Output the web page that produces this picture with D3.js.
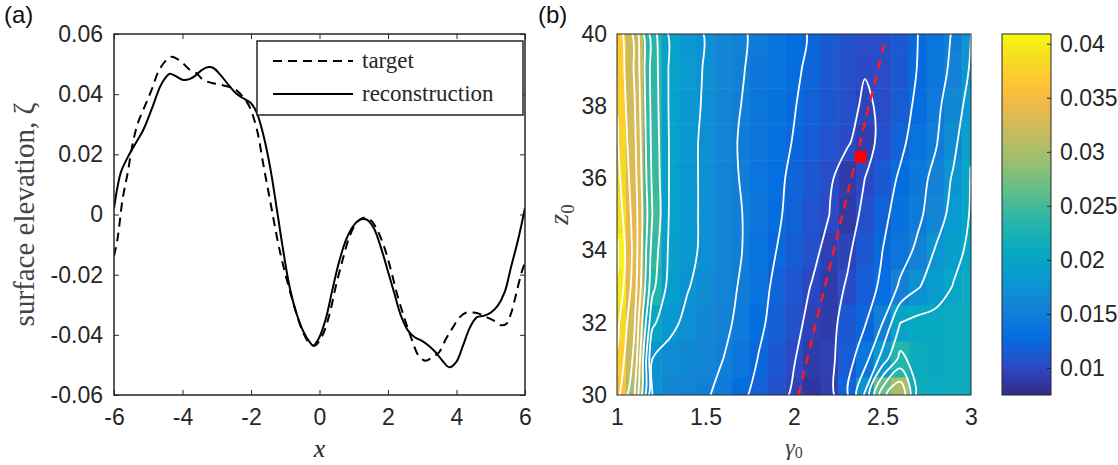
<!DOCTYPE html>
<html>
<head>
<meta charset="utf-8">
<script src="https://cdn.jsdelivr.net/npm/d3@7"></script>
<style>
  body { margin: 0; background: #fff; }
</style>
</head>
<body>
<div id="svg_chart"></div>
<script>
///////////// Data //////////////
// panel (a): surface elevation along x
var recon_x = [-6.0,-5.8,-5.6,-5.35,-5.15,-4.9,-4.65,-4.5,-4.37,-4.2,-4.0,-3.8,-3.64,-3.44,-3.24,-3.1,-2.9,-2.7,-2.45,-2.25,-2.0,-1.83,-1.63,-1.43,-1.23,-1.08,-0.88,-0.68,-0.48,-0.28,-0.18,-0.03,0.18,0.38,0.58,0.78,0.98,1.18,1.38,1.58,1.78,1.98,2.18,2.38,2.59,2.79,2.99,3.19,3.39,3.59,3.79,3.99,4.19,4.39,4.59,4.79,5.0,5.2,5.4,5.6,5.8,6.0];
var recon_y = [0.002,0.014,0.019,0.024,0.028,0.035,0.0426,0.0454,0.0468,0.046,0.0448,0.045,0.046,0.048,0.049,0.0487,0.0465,0.0437,0.0404,0.0388,0.037,0.0338,0.026,0.015,0.0006,-0.0105,-0.0237,-0.0326,-0.0387,-0.0425,-0.0436,-0.0414,-0.0348,-0.0248,-0.0154,-0.0083,-0.0039,-0.0017,-0.0017,-0.0044,-0.0105,-0.0182,-0.026,-0.0337,-0.0387,-0.0409,-0.042,-0.0436,-0.0458,-0.0486,-0.0508,-0.0491,-0.0436,-0.0376,-0.0342,-0.0337,-0.0326,-0.0304,-0.026,-0.0171,-0.0083,0.0022];
var target_x = [-6.0,-5.9,-5.75,-5.6,-5.45,-5.3,-5.1,-4.9,-4.7,-4.5,-4.34,-4.2,-4.0,-3.8,-3.6,-3.4,-3.14,-2.9,-2.7,-2.45,-2.25,-2.05,-1.83,-1.63,-1.43,-1.23,-1.08,-0.88,-0.68,-0.48,-0.28,-0.13,0.08,0.28,0.48,0.68,0.88,1.08,1.28,1.48,1.68,1.88,2.08,2.28,2.49,2.69,2.89,3.09,3.29,3.49,3.69,3.89,4.09,4.29,4.49,4.69,4.89,5.09,5.3,5.45,5.6,5.75,5.9,6.0];
var target_y = [-0.0138,-0.0083,0.005,0.0139,0.0238,0.0305,0.036,0.0415,0.0476,0.051,0.0524,0.052,0.0504,0.0482,0.047,0.0448,0.0437,0.0432,0.0426,0.0415,0.0393,0.036,0.0283,0.016,0.0039,-0.0083,-0.016,-0.0248,-0.0326,-0.0392,-0.043,-0.0436,-0.0403,-0.0337,-0.0237,-0.0149,-0.0072,-0.0028,-0.0011,-0.0017,-0.005,-0.0105,-0.0182,-0.0271,-0.0348,-0.0414,-0.0469,-0.0486,-0.0475,-0.0458,-0.0414,-0.0376,-0.0342,-0.0326,-0.0326,-0.0331,-0.0342,-0.0353,-0.0368,-0.0364,-0.0326,-0.026,-0.0193,-0.016];
var x_ticks = [-6, -4, -2, 0, 2, 4, 6];
var zeta_ticks = [-0.06, -0.04, -0.02, 0, 0.02, 0.04, 0.06];
var legend_labels = ['target', 'reconstruction'];

// panel (b): misfit over (gamma0, z0), one row per z0 value
var gamma0 = [1.0,1.1,1.2,1.3,1.4,1.5,1.6,1.7,1.8,1.9,2.0,2.1,2.2,2.3,2.4,2.5,2.6,2.7,2.8,2.9,3.0];
var z0 = [30,31,32,33,34,35,36,37,38,39,40];
var misfit = [
  [0.0360,0.0300,0.0175,0.0162,0.0158,0.0152,0.0145,0.0130,0.0118,0.0107,0.0097,0.0085,0.0092,0.0122,0.0178,0.0268,0.0300,0.0215,0.0210,0.0210,0.0212], // 30
  [0.0372,0.0318,0.0175,0.0168,0.0163,0.0157,0.0150,0.0140,0.0124,0.0112,0.0101,0.0090,0.0093,0.0115,0.0140,0.0185,0.0232,0.0212,0.0209,0.0210,0.0212], // 31
  [0.0382,0.0326,0.0205,0.0180,0.0170,0.0163,0.0155,0.0145,0.0130,0.0117,0.0106,0.0094,0.0090,0.0112,0.0123,0.0150,0.0200,0.0207,0.0208,0.0210,0.0212], // 32
  [0.0398,0.0336,0.0232,0.0190,0.0176,0.0168,0.0158,0.0148,0.0134,0.0120,0.0110,0.0099,0.0090,0.0102,0.0116,0.0129,0.0154,0.0173,0.0188,0.0201,0.0210], // 33
  [0.0404,0.0340,0.0240,0.0194,0.0181,0.0170,0.0160,0.0151,0.0137,0.0125,0.0116,0.0106,0.0093,0.0096,0.0112,0.0125,0.0139,0.0155,0.0177,0.0193,0.0205], // 34
  [0.0392,0.0338,0.0250,0.0196,0.0182,0.0170,0.0160,0.0151,0.0139,0.0128,0.0119,0.0108,0.0100,0.0088,0.0106,0.0120,0.0133,0.0145,0.0162,0.0184,0.0202], // 35
  [0.0384,0.0334,0.0245,0.0197,0.0182,0.0170,0.0158,0.0149,0.0138,0.0129,0.0121,0.0112,0.0103,0.0090,0.0100,0.0114,0.0128,0.0142,0.0156,0.0178,0.0201], // 36
  [0.0378,0.0330,0.0242,0.0197,0.0182,0.0170,0.0158,0.0148,0.0139,0.0131,0.0124,0.0115,0.0108,0.0102,0.0092,0.0106,0.0120,0.0135,0.0148,0.0168,0.0198], // 37
  [0.0374,0.0326,0.0240,0.0196,0.0183,0.0172,0.0160,0.0150,0.0141,0.0133,0.0126,0.0118,0.0111,0.0106,0.0097,0.0103,0.0115,0.0130,0.0144,0.0163,0.0185], // 38
  [0.0370,0.0322,0.0238,0.0196,0.0184,0.0173,0.0161,0.0152,0.0143,0.0135,0.0128,0.0121,0.0112,0.0105,0.0101,0.0103,0.0112,0.0126,0.0140,0.0155,0.0178], // 39
  [0.0366,0.0318,0.0235,0.0195,0.0183,0.0174,0.0162,0.0153,0.0145,0.0137,0.0130,0.0123,0.0114,0.0107,0.0103,0.0105,0.0113,0.0125,0.0138,0.0152,0.0175]  // 40
];
var contour_levels = [0.01,0.0125,0.015,0.0175,0.02,0.0225,0.025,0.0275,0.03,0.0325,0.035,0.0375,0.04];
var valley_gamma = [2.025, 2.51];
var valley_z = [30, 39.74];
var best_gamma = 2.376;
var best_z = 36.6;
var gamma_ticks = [1, 1.5, 2, 2.5, 3];
var z_ticks = [30, 32, 34, 36, 38, 40];
var cbar_ticks = [0.01, 0.015, 0.02, 0.025, 0.03, 0.035, 0.04];
var cbar_range = [0.0075, 0.0409];

// parula colormap (index out of 63 -> colour)
var parula_idx = [0,5,10,15,20,25,30,35,40,45,50,53,56,59,61,63];
var parula_hex = ['#352a87','#2b4ac7','#046de0','#1481d6','#0998d1','#07a9c2','#25b5aa','#59bd8c','#92bf73','#c0bc60','#e9b94e','#fdbe3d','#fcce2e','#f5de21','#f5eb18','#f9fb0e'];

///////////// Layout //////////////
const svg_width = 1118, svg_height = 465;
const tick_font = 23;
const ink = '#262626';
const a_box = {left: 114, right: 525, top: 34, bottom: 395};
const b_box = {left: 617, right: 971, top: 34, bottom: 395};
const c_box = {left: 1002, right: 1051, top: 34, bottom: 395};

var svg = d3.select('#svg_chart').append('svg')
  .attr('width', svg_width)
  .attr('height', svg_height)
  .style('font-family', '"Liberation Sans", Arial, sans-serif');
var defs = svg.append('defs');

var fmt = d => String(d).replace('\u2212', '-');

function style_axis(g) {
  g.select('.domain').remove();
  g.selectAll('line').attr('stroke', ink).attr('stroke-width', 1);
  g.selectAll('text').attr('fill', ink).style('font-size', tick_font + 'px')
    .style('font-family', '"Liberation Sans", Arial, sans-serif');
}

///////////// Panel (a) //////////////
var ax = d3.scaleLinear().domain([-6, 6]).range([a_box.left, a_box.right]);
var ay = d3.scaleLinear().domain([-0.06, 0.06]).range([a_box.bottom, a_box.top]);

svg.append('g')
  .attr('transform', `translate(0,${a_box.bottom})`)
  .call(d3.axisBottom(ax).tickValues(x_ticks).tickFormat(fmt).tickSizeInner(-5).tickSizeOuter(0).tickPadding(14))
  .call(style_axis);
svg.append('g')
  .attr('transform', `translate(0,${a_box.top})`)
  .call(d3.axisTop(ax).tickValues(x_ticks).tickFormat('').tickSizeInner(-5).tickSizeOuter(0))
  .call(style_axis);
svg.append('g')
  .attr('transform', `translate(${a_box.left},0)`)
  .call(d3.axisLeft(ay).tickValues(zeta_ticks).tickFormat(fmt).tickSizeInner(-5).tickSizeOuter(0).tickPadding(11))
  .call(style_axis);
svg.append('g')
  .attr('transform', `translate(${a_box.right},0)`)
  .call(d3.axisRight(ay).tickValues(zeta_ticks).tickFormat('').tickSizeInner(-5).tickSizeOuter(0))
  .call(style_axis);

defs.append('clipPath').attr('id', 'clip_a')
  .append('rect')
  .attr('x', a_box.left).attr('y', a_box.top)
  .attr('width', a_box.right - a_box.left).attr('height', a_box.bottom - a_box.top);

var line = d3.line()
  .x(d => ax(d[0]))
  .y(d => ay(d[1]))
  .curve(d3.curveCatmullRom.alpha(0.5));

svg.append('path')
  .attr('clip-path', 'url(#clip_a)')
  .attr('d', line(d3.zip(target_x, target_y)))
  .attr('fill', 'none').attr('stroke', '#000').attr('stroke-width', 2)
  .attr('stroke-dasharray', '9,6');
svg.append('path')
  .attr('clip-path', 'url(#clip_a)')
  .attr('d', line(d3.zip(recon_x, recon_y)))
  .attr('fill', 'none').attr('stroke', '#000').attr('stroke-width', 2);

// axes box
svg.append('rect')
  .attr('x', a_box.left).attr('y', a_box.top)
  .attr('width', a_box.right - a_box.left).attr('height', a_box.bottom - a_box.top)
  .attr('fill', 'none').attr('stroke', ink).attr('stroke-width', 1.5);

// legend
var legend = svg.append('g');
legend.append('rect')
  .attr('x', 257).attr('y', 41).attr('width', 266).attr('height', 74)
  .attr('fill', '#fff').attr('stroke', ink).attr('stroke-width', 1.5);
legend_labels.forEach(function(lab, i) {
  var yy = 61 + i * 33;
  legend.append('line')
    .attr('x1', 273).attr('x2', 353).attr('y1', yy).attr('y2', yy)
    .attr('stroke', '#000').attr('stroke-width', 2)
    .attr('stroke-dasharray', i == 0 ? '9,6' : null);
  legend.append('text')
    .attr('x', 362).attr('y', yy + 7)
    .style('font-family', '"Liberation Serif", "Times New Roman", serif')
    .style('font-size', '23px')
    .attr('fill', ink)
    .text(lab);
});

// labels
svg.append('text')
  .attr('transform', `translate(34,${(a_box.top + a_box.bottom) / 2}) rotate(-90)`)
  .attr('text-anchor', 'middle')
  .style('font-family', '"Liberation Serif", "Times New Roman", serif')
  .style('font-size', '29px')
  .attr('fill', '#444')
  .text('surface elevation, \u03b6');
svg.append('text')
  .attr('x', ax(0)).attr('y', 457)
  .attr('text-anchor', 'middle')
  .style('font-family', '"Liberation Serif", "Times New Roman", serif')
  .style('font-style', 'italic')
  .style('font-size', '26px')
  .attr('fill', ink)
  .text('x');
svg.append('text')
  .attr('x', 4).attr('y', 23)
  .style('font-size', '24px').attr('fill', '#111')
  .text('(a)');

///////////// Panel (b) //////////////
var bx = d3.scaleLinear().domain([1, 3]).range([b_box.left, b_box.right]);
var by = d3.scaleLinear().domain([30, 40]).range([b_box.bottom, b_box.top]);
var color = d3.scaleLinear()
  .domain(parula_idx.map(i => cbar_range[0] + i / 63 * (cbar_range[1] - cbar_range[0])))
  .range(parula_hex)
  .clamp(true);

defs.append('clipPath').attr('id', 'clip_b')
  .append('rect')
  .attr('x', b_box.left).attr('y', b_box.top)
  .attr('width', b_box.right - b_box.left).attr('height', b_box.bottom - b_box.top);

var heat = svg.append('g').attr('clip-path', 'url(#clip_b)');
var dg = gamma0[1] - gamma0[0], dz = z0[1] - z0[0];
var cells = [];
misfit.forEach(function(row, j) {
  row.forEach(function(v, i) { cells.push({g: gamma0[i], z: z0[j], v: v}); });
});
heat.selectAll('rect.cell').data(cells).enter().append('rect')
  .attr('class', 'cell')
  .attr('x', d => bx(d.g - dg / 2))
  .attr('y', d => by(d.z + dz / 2))
  .attr('width', bx(dg) - bx(0) + 0.5)
  .attr('height', by(0) - by(dz) + 0.5)
  .attr('fill', d => color(d.v));

// contour lines from the misfit grid, rings drawn as smooth closed curves
var nx = gamma0.length, ny = z0.length;
var grid_x = d3.scaleLinear().domain([0.5, nx - 0.5]).range([bx(gamma0[0]), bx(gamma0[nx - 1])]);
var grid_y = d3.scaleLinear().domain([0.5, ny - 0.5]).range([by(z0[0]), by(z0[ny - 1])]);
var contours = d3.contours().size([nx, ny]).thresholds(contour_levels)(misfit.flat());
var ring_line = d3.line()
  .x(p => grid_x(p[0]))
  .y(p => grid_y(p[1]))
  .curve(d3.curveCatmullRomClosed.alpha(0.5));
var rings = [];
contours.forEach(function(c) {
  c.coordinates.forEach(function(poly) {
    poly.forEach(function(ring) { rings.push(ring.slice(0, -1)); });
  });
});
heat.selectAll('path.contour').data(rings).enter().append('path')
  .attr('class', 'contour')
  .attr('d', ring_line)
  .attr('fill', 'none')
  .attr('stroke', '#fff')
  .attr('stroke-width', 1.8)
  .attr('stroke-linejoin', 'round');

// valley line and best fit
heat.append('path')
  .attr('d', d3.line().x(d => bx(d[0])).y(d => by(d[1]))(d3.zip(valley_gamma, valley_z)))
  .attr('stroke', '#ff1a1a').attr('stroke-width', 2.5)
  .attr('stroke-dasharray', '9,7').attr('fill', 'none');
heat.append('rect')
  .attr('x', bx(best_gamma) - 6).attr('y', by(best_z) - 6)
  .attr('width', 12).attr('height', 12)
  .attr('fill', '#ff0000');

svg.append('rect')
  .attr('x', b_box.left).attr('y', b_box.top)
  .attr('width', b_box.right - b_box.left).attr('height', b_box.bottom - b_box.top)
  .attr('fill', 'none').attr('stroke', ink).attr('stroke-width', 1);

svg.append('g')
  .attr('transform', `translate(0,${b_box.bottom})`)
  .call(d3.axisBottom(bx).tickValues(gamma_ticks).tickFormat(fmt).tickSize(0).tickPadding(14))
  .call(style_axis);
svg.append('g')
  .attr('transform', `translate(${b_box.left},0)`)
  .call(d3.axisLeft(by).tickValues(z_ticks).tickFormat(fmt).tickSize(0).tickPadding(10))
  .call(style_axis);

svg.append('text')
  .attr('transform', `translate(568,${(b_box.top + b_box.bottom) / 2}) rotate(-90)`)
  .attr('text-anchor', 'middle')
  .style('font-family', '"Liberation Serif", "Times New Roman", serif')
  .style('font-size', '28px')
  .attr('fill', '#444')
  .html('<tspan font-style="italic">z</tspan><tspan dy="6" font-size="19px">0</tspan>');
svg.append('text')
  .attr('x', bx(2)).attr('y', 455)
  .attr('text-anchor', 'middle')
  .style('font-family', '"Liberation Serif", "Times New Roman", serif')
  .style('font-size', '24px')
  .attr('fill', '#444')
  .html('<tspan font-style="italic">\u03b3</tspan><tspan dy="3" font-size="16px">0</tspan>');
svg.append('text')
  .attr('x', 538).attr('y', 23)
  .style('font-size', '24px').attr('fill', '#111')
  .text('(b)');

///////////// Colorbar //////////////
var cy = d3.scaleLinear().domain(cbar_range).range([c_box.bottom, c_box.top]);
var grad = defs.append('linearGradient')
  .attr('id', 'parula_grad')
  .attr('x1', 0).attr('y1', 1).attr('x2', 0).attr('y2', 0);
grad.selectAll('stop').data(parula_idx).enter().append('stop')
  .attr('offset', d => d / 63)
  .attr('stop-color', (d, i) => parula_hex[i]);

svg.append('rect')
  .attr('x', c_box.left).attr('y', c_box.top)
  .attr('width', c_box.right - c_box.left).attr('height', c_box.bottom - c_box.top)
  .attr('fill', 'url(#parula_grad)')
  .attr('stroke', ink).attr('stroke-width', 1);

svg.append('g')
  .attr('transform', `translate(${c_box.right},0)`)
  .call(d3.axisRight(cy).tickValues(cbar_ticks).tickFormat(fmt).tickSizeInner(-4).tickSizeOuter(0).tickPadding(9))
  .call(style_axis);
</script>
</body>
</html>
